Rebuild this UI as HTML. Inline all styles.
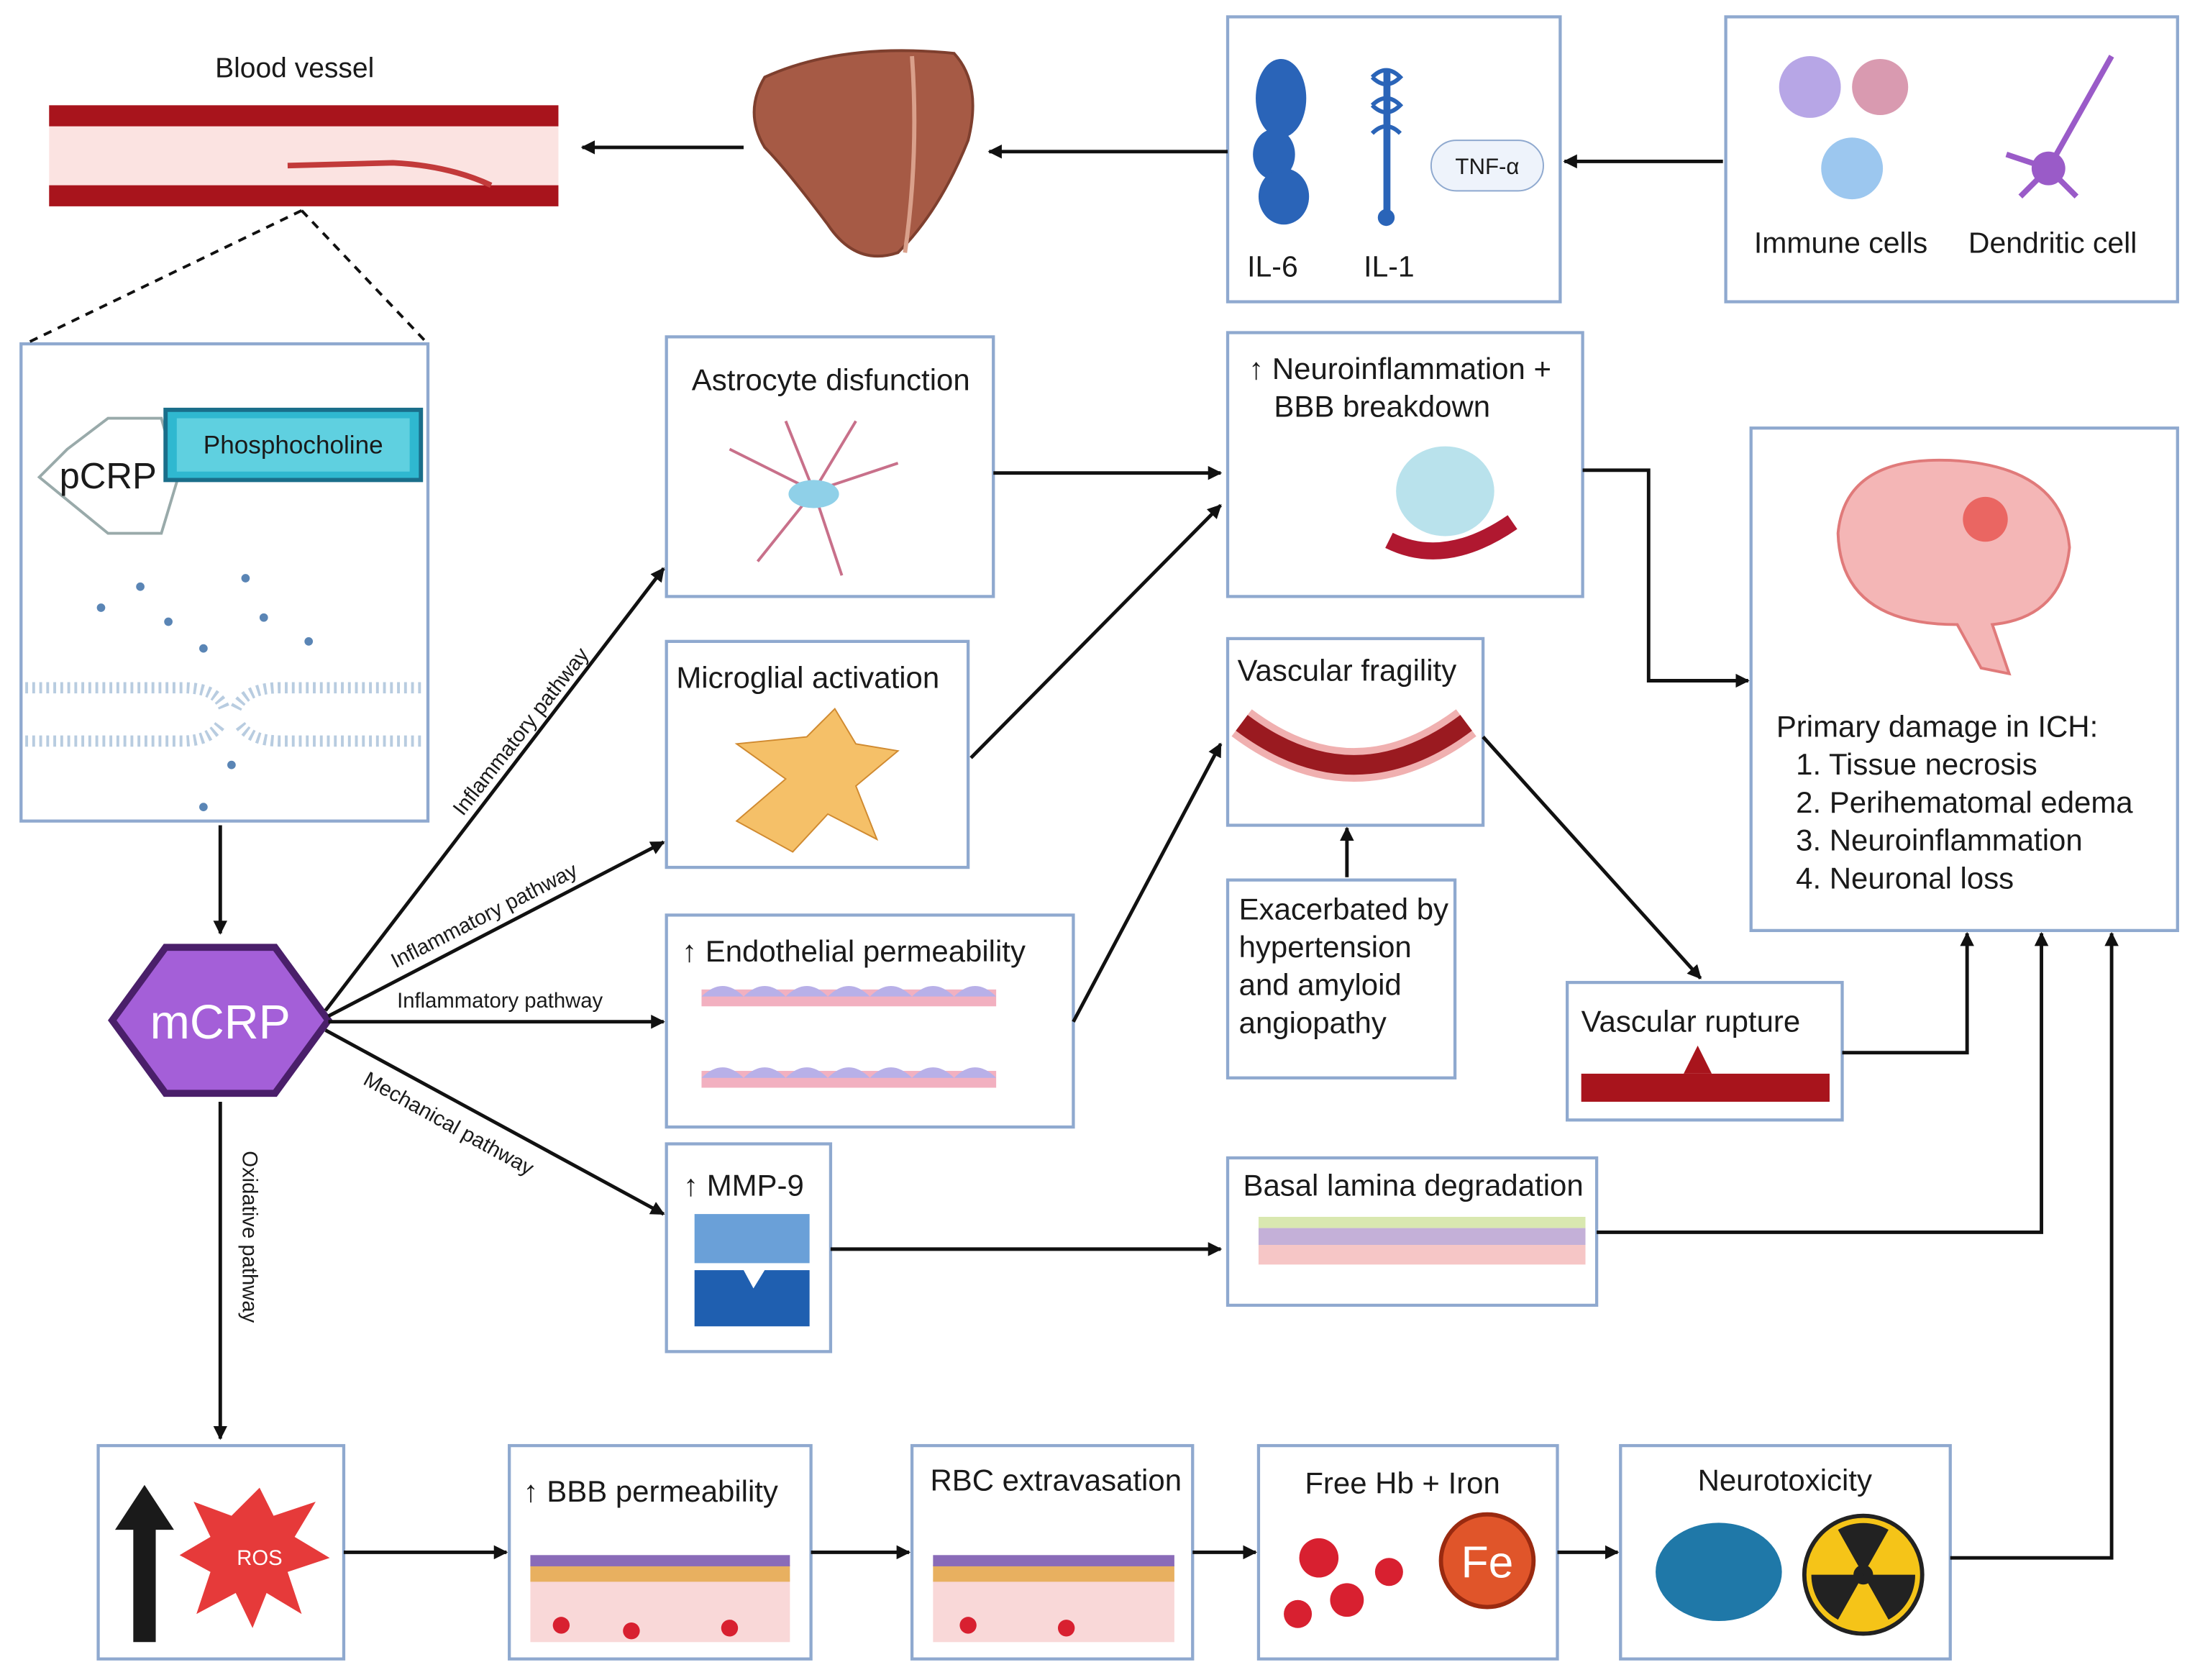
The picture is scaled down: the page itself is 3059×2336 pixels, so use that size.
<!DOCTYPE html>
<html><head><meta charset="utf-8"><style>
html,body{margin:0;padding:0;background:#fff;}
svg{display:block;}
text{font-family:"Liberation Sans",sans-serif;fill:#1a1a1a;}
</style></head><body>
<svg width="3059" height="2336" viewBox="0 0 1568 1197" preserveAspectRatio="none" xmlns="http://www.w3.org/2000/svg">
<defs>
<marker id="a" markerWidth="10" markerHeight="10" refX="9" refY="5" orient="auto" markerUnits="userSpaceOnUse" viewBox="0 0 10 10"><path d="M0,0 L10,5 L0,10 z" fill="#111"/></marker>
</defs>
<rect width="1568" height="1197" fill="#fff"/>
<g fill="#fff" stroke="#8fa9cf" stroke-width="2.2">
<rect x="875" y="12" width="237" height="203"/>
<rect x="1230" y="12" width="322" height="203"/>
<rect x="15" y="245" width="290" height="340"/>
<rect x="475" y="240" width="233" height="185"/>
<rect x="875" y="237" width="253" height="188"/>
<rect x="1248" y="305" width="304" height="358"/>
<rect x="475" y="457" width="215" height="161"/>
<rect x="875" y="455" width="182" height="133"/>
<rect x="475" y="652" width="290" height="151"/>
<rect x="875" y="627" width="162" height="141"/>
<rect x="1117" y="700" width="196" height="98"/>
<rect x="475" y="815" width="117" height="148"/>
<rect x="875" y="825" width="263" height="105"/>
<rect x="70" y="1030" width="175" height="152"/>
<rect x="363" y="1030" width="215" height="152"/>
<rect x="650" y="1030" width="200" height="152"/>
<rect x="897" y="1030" width="213" height="152"/>
<rect x="1155" y="1030" width="235" height="152"/>
</g>
<!-- blood vessel -->
<text x="210" y="55" font-size="20" text-anchor="middle">Blood vessel</text>
<rect x="35" y="75" width="363" height="72" fill="#fbe3e1"/>
<rect x="35" y="75" width="363" height="15" fill="#a8141c"/>
<rect x="35" y="132" width="363" height="15" fill="#a8141c"/>
<path d="M205,118 L280,116 Q320,118 350,132" fill="none" stroke="#c23a3a" stroke-width="4"/>
<!-- liver -->
<path d="M545,55 Q600,30 680,38 Q700,60 690,100 Q670,150 640,180 Q610,190 590,160 Q560,120 545,105 Q530,80 545,55z" fill="#a65a45" stroke="#7e3f2e" stroke-width="2"/>
<path d="M650,40 Q655,110 645,180" stroke="#d9a08b" stroke-width="3" fill="none"/>
<!-- cytokines -->
<ellipse cx="913" cy="70" rx="18" ry="28" fill="#2a64b8"/><ellipse cx="908" cy="110" rx="15" ry="18" fill="#2a64b8"/><ellipse cx="915" cy="140" rx="18" ry="20" fill="#2a64b8"/>
<rect x="986" y="50" width="5" height="105" fill="#2a64b8"/><path d="M978,55 q10,-10 20,0 q-10,10 -20,0 M978,75 q10,-10 20,0 q-10,10 -20,0 M978,95 q10,-10 20,0" stroke="#2a64b8" stroke-width="3" fill="none"/><circle cx="988" cy="155" r="6" fill="#2a64b8"/>
<rect x="1020" y="100" width="80" height="36" rx="18" fill="#eef3fb" stroke="#8fa9cf"/>
<text x="1060" y="124" font-size="16" text-anchor="middle">TNF-α</text>
<text x="907" y="197" font-size="21" text-anchor="middle">IL-6</text>
<text x="990" y="197" font-size="21" text-anchor="middle">IL-1</text>
<!-- immune cells -->
<circle cx="1290" cy="62" r="22" fill="#b7a6e6"/><circle cx="1340" cy="62" r="20" fill="#d99ab0"/><circle cx="1320" cy="120" r="22" fill="#9cc7ef"/>
<path d="M1460,120 L1505,40 M1460,120 L1430,110 M1460,120 L1440,140 M1460,120 L1480,140" stroke="#9a5bc8" stroke-width="4"/><circle cx="1460" cy="120" r="12" fill="#9a5bc8"/>
<text x="1312" y="180" font-size="21" text-anchor="middle">Immune cells</text>
<text x="1463" y="180" font-size="21" text-anchor="middle">Dendritic cell</text>
<!-- top arrows -->
<g stroke="#111" stroke-width="2.5" fill="none" marker-end="url(#a)">
<line x1="530" y1="105" x2="415" y2="105"/>
<line x1="875" y1="108" x2="705" y2="108"/>
<line x1="1228" y1="115" x2="1115" y2="115"/>
</g>
<path d="M215,150 L18,245 M215,150 L305,245" stroke="#111" stroke-width="2" stroke-dasharray="6,5" fill="none"/>
<!-- pCRP -->
<polygon points="48,320 77,298 115,298 127,340 115,380 77,380 28,340" fill="#fff" stroke="#9aa" stroke-width="2"/>
<rect x="118" y="292" width="182" height="50" fill="#2fb8d0" stroke="#1a6e8a" stroke-width="3"/>
<rect x="126" y="298" width="166" height="38" fill="#5fd0e0"/>
<text x="209" y="323" font-size="18" text-anchor="middle">Phosphocholine</text>
<text x="77" y="348" font-size="26" text-anchor="middle">pCRP</text>
<path d="M18,490 L130,490 Q155,490 160,505 M18,528 L130,528 Q150,528 158,515 M300,490 L200,490 Q175,490 168,505 M300,528 L200,528 Q178,528 170,515" fill="none" stroke-dasharray="2,3" stroke-width="8" stroke="#b8cce0"/>
<g fill="#5a85b5"><circle cx="100" cy="418" r="3"/><circle cx="175" cy="412" r="3"/><circle cx="72" cy="433" r="3"/><circle cx="120" cy="443" r="3"/><circle cx="188" cy="440" r="3"/><circle cx="220" cy="457" r="3"/><circle cx="145" cy="462" r="3"/><circle cx="165" cy="545" r="3"/><circle cx="145" cy="575" r="3"/></g>
<line x1="157" y1="588" x2="157" y2="665" stroke="#111" stroke-width="2.5" marker-end="url(#a)"/>
<!-- mCRP -->
<polygon points="80,727 118,675 196,675 234,727 196,779 118,779" fill="#a45fd8" stroke="#4a1f6a" stroke-width="5"/>
<text x="157" y="740" font-size="34" text-anchor="middle" style="fill:#fff">mCRP</text>
<g stroke="#111" stroke-width="2.5" fill="none" marker-end="url(#a)">
<line x1="232" y1="720" x2="473" y2="405"/>
<line x1="234" y1="724" x2="473" y2="600"/>
<line x1="234" y1="728" x2="473" y2="728"/>
<line x1="232" y1="734" x2="473" y2="865"/>
<line x1="157" y1="785" x2="157" y2="1025"/>
<line x1="708" y1="337" x2="870" y2="337"/>
<line x1="692" y1="540" x2="870" y2="360"/>
<line x1="765" y1="728" x2="870" y2="530"/>
<line x1="592" y1="890" x2="870" y2="890"/>
<line x1="960" y1="625" x2="960" y2="590"/>
<line x1="1057" y1="525" x2="1212" y2="697"/>
<polyline points="1128,335 1175,335 1175,485 1246,485"/>
<polyline points="1313,750 1402,750 1402,665"/>
<polyline points="1138,878 1455,878 1455,665"/>
<polyline points="1390,1110 1505,1110 1505,665"/>
<line x1="245" y1="1106" x2="361" y2="1106"/>
<line x1="578" y1="1106" x2="648" y2="1106"/>
<line x1="850" y1="1106" x2="895" y2="1106"/>
<line x1="1110" y1="1106" x2="1153" y2="1106"/>
</g>
<g font-size="15">
<text transform="translate(330,582) rotate(-52)">Inflammatory pathway</text>
<text transform="translate(282,690) rotate(-27)">Inflammatory pathway</text>
<text x="283" y="718">Inflammatory pathway</text>
<text transform="translate(258,772) rotate(29)">Mechanical pathway</text>
<text transform="translate(173,820) rotate(90)">Oxidative pathway</text>
</g>
<!-- box titles -->
<g font-size="21.5">
<text x="493" y="278">Astrocyte disfunction</text>
<text x="890" y="270">↑ Neuroinflammation +</text>
<text x="908" y="297">BBB breakdown</text>
<text x="482" y="490">Microglial activation</text>
<text x="882" y="485">Vascular fragility</text>
<text x="486" y="685">↑ Endothelial permeability</text>
<text x="883" y="655">Exacerbated by</text>
<text x="883" y="682">hypertension</text>
<text x="883" y="709">and amyloid</text>
<text x="883" y="736">angiopathy</text>
<text x="1127" y="735">Vascular rupture</text>
<text x="487" y="852">↑ MMP-9</text>
<text x="886" y="852">Basal lamina degradation</text>
<text x="1266" y="525">Primary damage in ICH:</text>
<text x="1280" y="552">1.  Tissue necrosis</text>
<text x="1280" y="579">2.  Perihematomal edema</text>
<text x="1280" y="606">3.  Neuroinflammation</text>
<text x="1280" y="633">4.  Neuronal loss</text>
<text x="373" y="1070">↑ BBB permeability</text>
<text x="663" y="1062">RBC extravasation</text>
<text x="930" y="1064">Free Hb + Iron</text>
<text x="1210" y="1062">Neurotoxicity</text>
</g>
<!-- illustrations -->
<g stroke="#c8708a" stroke-width="2" fill="none"><path d="M520,320 L580,350 L640,330 M580,350 L600,410 M580,350 L540,400 M580,350 L610,300 M580,350 L560,300"/></g>
<ellipse cx="580" cy="352" rx="18" ry="10" fill="#8fd0e8"/>
<ellipse cx="1030" cy="350" rx="35" ry="32" fill="#b9e2ec"/><path d="M990,385 Q1030,405 1078,372" stroke="#b01830" stroke-width="12" fill="none"/>
<path d="M525,585 L560,555 L525,530 L575,525 L595,505 L610,530 L640,535 L610,560 L625,598 L590,580 L565,607z" fill="#f5c068" stroke="#d08a30"/>
<path d="M885,515 Q965,575 1045,515" stroke="#f0b0b0" stroke-width="24" fill="none"/><path d="M885,515 Q965,575 1045,515" stroke="#9a1a20" stroke-width="14" fill="none"/>
<rect x="500" y="705" width="210" height="12" fill="#f2b0c0"/><rect x="500" y="763" width="210" height="12" fill="#f2b0c0"/>
<path d="M500,710 q15,-15 30,0 q15,-15 30,0 q15,-15 30,0 q15,-15 30,0 q15,-15 30,0 q15,-15 30,0 q15,-15 30,0" fill="#b8b0e8"/>
<path d="M500,768 q15,-15 30,0 q15,-15 30,0 q15,-15 30,0 q15,-15 30,0 q15,-15 30,0 q15,-15 30,0 q15,-15 30,0" fill="#b8b0e8"/>
<rect x="1127" y="765" width="177" height="20" fill="#a8141c"/><path d="M1200,765 l10,-20 l10,20" fill="#a8141c"/>
<rect x="495" y="865" width="82" height="35" fill="#6aa0d8"/><path d="M495,905 L530,905 L537,918 L545,905 L577,905 L577,945 L495,945z" fill="#1f5fb0"/>
<rect x="897" y="867" width="233" height="8" fill="#d9e8b0"/><rect x="897" y="875" width="233" height="12" fill="#c4b0d8"/><rect x="897" y="887" width="233" height="14" fill="#f6c6c6"/>
<path d="M1310,380 Q1315,325 1390,328 Q1470,332 1475,390 Q1470,440 1420,445 L1432,480 L1412,476 L1395,445 Q1312,445 1310,380z" fill="#f4b6b6" stroke="#e07a7a" stroke-width="2"/><circle cx="1415" cy="370" r="16" fill="#e6453f" opacity="0.7"/>
<path d="M95,1170 L95,1090 L82,1090 L103,1058 L124,1090 L111,1090 L111,1170z" fill="#1a1a1a"/>
<polygon points="185,1060 195,1080 225,1070 210,1095 235,1110 205,1120 215,1150 190,1135 180,1160 168,1135 140,1150 150,1120 128,1108 150,1095 138,1070 165,1080" fill="#e63a3a"/>
<text x="185" y="1115" font-size="15" text-anchor="middle" style="fill:#fff">ROS</text>
<rect x="378" y="1125" width="185" height="45" fill="#f9d8d8"/><rect x="378" y="1115" width="185" height="12" fill="#e8b060"/><rect x="378" y="1108" width="185" height="8" fill="#8a6bb8"/>
<rect x="665" y="1125" width="172" height="45" fill="#f9d8d8"/><rect x="665" y="1115" width="172" height="12" fill="#e8b060"/><rect x="665" y="1108" width="172" height="8" fill="#8a6bb8"/>
<g fill="#d82030"><circle cx="400" cy="1158" r="6"/><circle cx="450" cy="1162" r="6"/><circle cx="520" cy="1160" r="6"/><circle cx="690" cy="1158" r="6"/><circle cx="760" cy="1160" r="6"/><circle cx="940" cy="1110" r="14"/><circle cx="960" cy="1140" r="12"/><circle cx="925" cy="1150" r="10"/><circle cx="990" cy="1120" r="10"/></g>
<circle cx="1060" cy="1112" r="33" fill="#e0552a" stroke="#9a2a10" stroke-width="3"/><text x="1060" y="1124" font-size="32" text-anchor="middle" style="fill:#fff">Fe</text>
<ellipse cx="1225" cy="1120" rx="45" ry="35" fill="#1f78a8"/>
<circle cx="1328" cy="1122" r="42" fill="#f5c418" stroke="#222" stroke-width="3"/><circle cx="1328" cy="1122" r="7" fill="#222"/>
<path d="M1328,1122 L1310,1090 A36,36 0 0 1 1346,1090z M1328,1122 L1365,1122 A36,36 0 0 1 1346,1154z M1328,1122 L1310,1154 A36,36 0 0 1 1291,1122z" fill="#222"/>
</svg>
</body></html>
